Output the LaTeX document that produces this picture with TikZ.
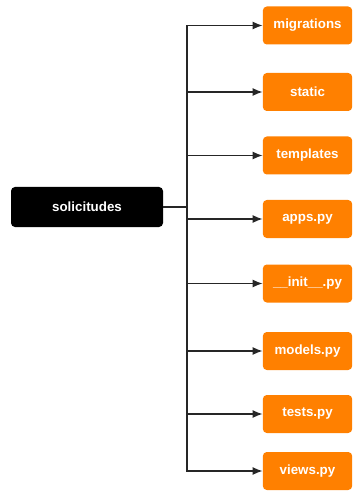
\documentclass[tikz,border=0pt]{standalone}
\usepackage{fontspec}
\setmainfont{Liberation Sans}
\usetikzlibrary{arrows.meta}

\definecolor{folder}{HTML}{FF8000}

\tikzset{
    rootbox/.style={fill=black,text=white,rounded corners=3pt,
        minimum width=114pt,minimum height=30pt,font=\bfseries\fontsize{10}{12}\selectfont},
    filebox/.style={fill=folder,text=white,rounded corners=3pt,
        minimum width=67pt,minimum height=28.5pt,font=\bfseries\fontsize{10}{12}\selectfont},
    link/.style={line width=0.9pt,draw=black!85}
}

\begin{document}
\begin{tikzpicture}[x=0.75pt,y=-0.75pt]
    \useasboundingbox (0,0) rectangle (354,491);
    \node [rootbox] (root) at (87,207) {solicitudes};
    \coordinate (trunk) at (187,207);
    \draw [link] (root.east) -- (trunk);
    \foreach \name/\y/\txt in {mig/25.5/migrations,sta/92/static,tem/155.5/templates,
        app/219/apps.py,ini/283.5/\_\_init\_\_.py,mod/351/models.py,
        tes/414/tests.py,vie/471/views.py}
    {
        \node [filebox] (\name) at (307.5,\y) {\txt};
        \draw [link,-{Latex[length=7.5pt,width=6pt]}] (trunk) |- (\name.west);
    }
\end{tikzpicture}
\end{document}
